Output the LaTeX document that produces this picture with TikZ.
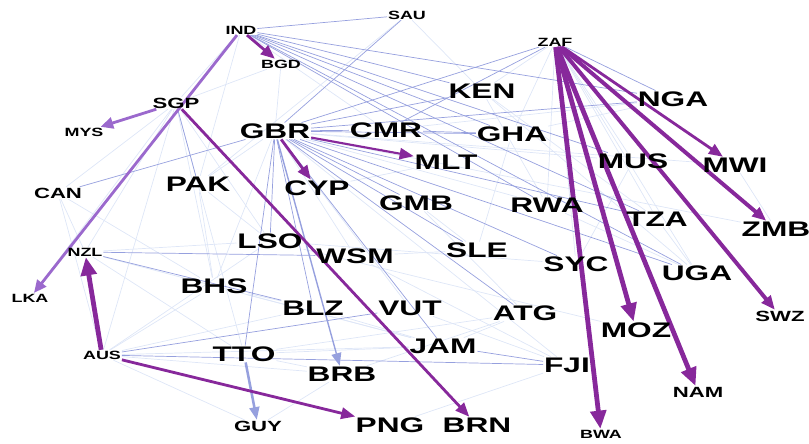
\documentclass[tikz,border=0pt]{standalone}
\usepackage{fontspec}
\newfontfamily\netfont[FakeStretch=1.5]{Liberation Sans}
\usetikzlibrary{arrows.meta,backgrounds}
\definecolor{netpurple}{RGB}{135,40,155}
\definecolor{lightpurple}{RGB}{155,105,205}
\definecolor{netblue}{RGB}{150,160,222}
\definecolor{hazeblue}{RGB}{222,230,247}

\tikzset{
  sml/.style={inner sep=0.5pt, font=\netfont\bfseries\fontsize{8.5}{9}\selectfont},
  mid/.style={inner sep=0.5pt, font=\netfont\bfseries\fontsize{10.5}{11}\selectfont},
  big/.style={inner sep=0.5pt, font=\netfont\bfseries\fontsize{15}{16}\selectfont},
  haze/.style={draw=hazeblue, line width=0.5pt},
  tie/.style={draw=netblue, line width=0.5pt},
  flow/.style={draw=netpurple, line width=#1, -{Triangle[length=10pt,width=8pt]}},
  flow/.default=2pt,
  bigflow/.style={draw=netpurple, line width=3.4pt, -{Triangle[length=13pt,width=11pt]}},
  softflow/.style={draw=lightpurple, line width=2pt, -{Triangle[length=9pt,width=8pt]}},
  blueflow/.style={draw=netblue, line width=#1, -{Triangle[length=9pt,width=7pt]}},
}

\begin{document}
\begin{tikzpicture}[x=0.025cm, y=-0.025cm]
    \useasboundingbox (0,0) rectangle (809,443);

    % countries
    \node[sml] (IND) at (241,30) {IND};
    \node[sml] (SAU) at (407,15) {SAU};
    \node[sml] (BGD) at (281,64) {BGD};
    \node[sml] (ZAF) at (555,42) {ZAF};
    \node[mid] (SGP) at (176,103) {SGP};
    \node[sml] (MYS) at (84,132) {MYS};
    \node[big] (KEN) at (482,91) {KEN};
    \node[big] (NGA) at (673,99) {NGA};
    \node[big] (GBR) at (275,131) {GBR};
    \node[big] (CMR) at (386,130) {CMR};
    \node[big] (GHA) at (512,134) {GHA};
    \node[big] (MLT) at (446,162) {MLT};
    \node[big] (MUS) at (633,161) {MUS};
    \node[big] (MWI) at (735,165) {MWI};
    \node[mid] (CAN) at (58,193) {CAN};
    \node[big] (PAK) at (198,184) {PAK};
    \node[big] (CYP) at (317,188) {CYP};
    \node[big] (GMB) at (416,203) {GMB};
    \node[big] (RWA) at (547,205) {RWA};
    \node[big] (TZA) at (657,219) {TZA};
    \node[big] (ZMB) at (776,229) {ZMB};
    \node[big] (LSO) at (270,241) {LSO};
    \node[big] (WSM) at (355,256) {WSM};
    \node[big] (SLE) at (477,250) {SLE};
    \node[sml] (NZL) at (85,252) {NZL};
    \node[big] (SYC) at (576,264) {SYC};
    \node[big] (UGA) at (697,273) {UGA};
    \node[big] (BHS) at (214,286) {BHS};
    \node[sml] (LKA) at (30,298) {LKA};
    \node[big] (BLZ) at (313,308) {BLZ};
    \node[big] (VUT) at (410,308) {VUT};
    \node[big] (ATG) at (525,313) {ATG};
    \node[mid] (SWZ) at (780,316) {SWZ};
    \node[big] (MOZ) at (636,330) {MOZ};
    \node[sml] (AUS) at (102,355) {AUS};
    \node[big] (TTO) at (244,354) {TTO};
    \node[big] (JAM) at (443,346) {JAM};
    \node[big] (FJI) at (567,365) {FJI};
    \node[big] (BRB) at (342,374) {BRB};
    \node[mid] (NAM) at (698,392) {NAM};
    \node[mid] (GUY) at (258,426) {GUY};
    \node[big] (PNG) at (390,425) {PNG};
    \node[big] (BRN) at (477,425) {BRN};
    \node[sml] (BWA) at (601,434) {BWA};

    \begin{scope}[on background layer]
        % faint ties
        \foreach \a/\b in {SGP/CAN, SGP/NZL, SGP/LKA, SGP/AUS, SGP/BHS, SGP/TTO, SGP/LSO,
                           CAN/NZL, CAN/AUS, CAN/BHS, NZL/LSO, NZL/TTO, NZL/JAM, AUS/LSO, AUS/BHS,
                           AUS/BLZ, AUS/BRB, AUS/JAM, AUS/GUY, IND/PAK, IND/SGP, BGD/GBR, BGD/SGP,
                           GBR/PAK, GBR/WSM, GBR/VUT, GBR/FJI, GBR/RWA, GBR/MUS, GBR/MWI,
                           GBR/ZMB, GBR/BHS, KEN/TZA, KEN/UGA, KEN/RWA, ZAF/KEN, ZAF/GHA,
                           ZAF/TZA, ZAF/UGA, ZAF/RWA, ZAF/SYC, ZAF/MUS, CMR/NGA, GHA/NGA,
                           SLE/GHA, GMB/SLE, JAM/ATG, BLZ/JAM, BHS/JAM, TTO/JAM, BRB/ATG,
                           VUT/FJI, WSM/FJI, PNG/FJI, LSO/SYC, LSO/MOZ, WSM/SLE, CYP/MLT,
                           PAK/LSO, PAK/BHS, BHS/BLZ, TTO/BRB, GUY/BRB, TTO/ATG, MUS/SYC,
                           TZA/UGA, RWA/UGA, MWI/ZMB, SAU/PAK, SAU/KEN, IND/CMR, GMB/ATG}
            \draw[haze] (\a) -- (\b);

        % ties
        \foreach \a/\b in {IND/SAU, IND/KEN, IND/NGA, IND/GHA, IND/MUS, IND/TZA, IND/UGA,
                           IND/RWA, SAU/GBR, GBR/CAN, GBR/CMR, GBR/GHA, GBR/NGA, GBR/KEN,
                           GBR/ZAF, ZAF/CMR, GBR/LSO, GBR/BLZ, GBR/GMB, GBR/SLE, GBR/SYC,
                           GBR/UGA, GBR/TZA, GBR/JAM, GBR/ATG, GBR/TTO, NZL/WSM, NZL/BLZ,
                           AUS/VUT, AUS/FJI, SGP/PAK, CMR/GHA, JAM/FJI, ZAF/NGA}
            \draw[tie] (\a) -- (\b);

        % flows
        \draw[blueflow=1.8pt] (TTO) -- (GUY);
        \draw[blueflow=1pt] (GBR) -- (BRB);
        \draw[softflow] (IND) -- (LKA);
        \draw[softflow] (SGP) -- (MYS);
        \draw[flow] (IND) -- (BGD);
        \draw[flow] (GBR) -- (CYP);
        \draw[flow=1.5pt] (GBR) -- (MLT);
        \draw[flow] (SGP) -- (BRN);
        \draw[flow] (AUS) -- (PNG);
        \draw[flow] (ZAF) -- (MWI);
        \draw[flow=2.8pt] (ZAF) -- (ZMB);
        \draw[flow=2.8pt] (ZAF) -- (SWZ);
        \draw[bigflow] (ZAF) -- (NAM);
        \draw[bigflow] (ZAF) -- (MOZ);
        \draw[bigflow] (ZAF) -- (BWA);
        \draw[bigflow] (AUS) -- (NZL);
    \end{scope}
\end{tikzpicture}
\end{document}
